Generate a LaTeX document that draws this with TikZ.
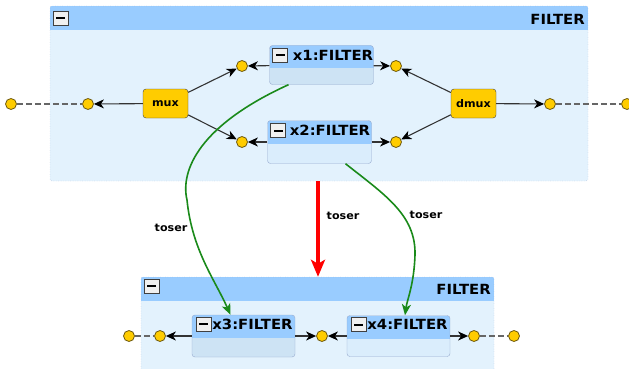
\documentclass[tikz,border=0pt]{standalone}
\usepackage{fontspec}
\setmainfont{DejaVu Sans}
\newfontfamily\hdfont{DejaVu Sans}[FakeStretch=1.06]
\usetikzlibrary{arrows.meta,positioning}
\definecolor{hdr}{HTML}{99CCFF}
\definecolor{contbody}{HTML}{E3F2FD}
\definecolor{contline}{HTML}{97A6C8}
\definecolor{bodya}{HTML}{CDE3F4}
\definecolor{bodyb}{HTML}{DAEDFC}
\definecolor{blkline}{HTML}{98ABCF}
\definecolor{gold}{HTML}{FFCC00}
\definecolor{goldline}{HTML}{6E5A10}
\definecolor{lnkgreen}{HTML}{1A8A1A}
\tikzset{
	cont/.style={draw=contline, dotted, fill=contbody, rounded corners=2pt, inner sep=0pt,
		path picture={\fill[hdr, sharp corners] (path picture bounding box.north west) rectangle ([yshift=-24pt]path picture bounding box.north east);}},
	blk/.style={draw=blkline, fill=#1, rounded corners=3pt, inner sep=0pt, minimum width=104pt,
		path picture={\fill[hdr, sharp corners] (path picture bounding box.north west) rectangle ([yshift=-23pt]path picture bounding box.north east);}},
	mbox/.style={draw=gray!50!black, fill=gray!12, minimum width=15pt, minimum height=14pt, inner sep=0pt,
		path picture={\fill[black] ([xshift=-4.5pt,yshift=-1pt]path picture bounding box.center) rectangle ([xshift=4.5pt,yshift=1pt]path picture bounding box.center);}},
	ttl/.style={inner sep=0pt, font=\hdfont\fontsize{14}{16}\selectfont\bfseries},
	mx/.style={draw=black!75, fill=gold, rounded corners=3pt, minimum width=45pt, minimum height=29pt, inner sep=0pt, font=\hdfont\fontsize{10.5}{12}\selectfont\bfseries},
	port/.style={circle, draw=goldline, fill=gold, minimum size=11pt, inner sep=0pt, line width=0.8pt},
	lbl/.style={inner sep=0pt, font=\hdfont\fontsize{10.5}{12}\selectfont\bfseries},
	lnk/.style={draw=black!80, line width=1.1pt, -{Stealth[black, length=10pt, width=9pt, inset=3pt]}},
	dsh/.style={draw=black!60, line width=1.1pt, dash pattern=on 6pt off 3pt},
	tos/.style={draw=lnkgreen, line width=1.6pt, -{Stealth[length=11pt, width=9pt, inset=3pt]}},
	ser/.style={draw=red, line width=4pt, -{Stealth[length=17pt, width=14pt, inset=4pt]}}
}
\begin{document}
\begin{tikzpicture}[x=1pt, y=-1pt]
	\useasboundingbox (0, 0) rectangle (629, 369);
	\clip (0, 0) rectangle (629, 369);

	% upper FILTER
	\node[cont, minimum width=538pt, minimum height=175pt] (filt) at (319, 93.5) {};
	\node[mbox, below right=5pt and 3pt of filt.north west] (filtm) {};
	\node[ttl, anchor=east] (filtt) at (585, 19.5) {FILTER};

	\node[port] (pl0) at (11, 104) {};
	\node[port] (pl1) at (88, 104) {};
	\node[mx] (mux) at (165.5, 103.5) {mux};
	\node[port] (p1l) at (242, 66) {};
	\node[port] (p2l) at (242, 142) {};
	\node[blk=bodya, minimum height=39pt] (x1) at (321.5, 65) {};
	\node[mbox, below right=3pt and 3pt of x1.north west] (x1m) {};
	\node[ttl, right=5pt of x1m] (x1t) {x1:FILTER};
	\node[blk=bodyb, minimum height=43pt] (x2) at (319.5, 142) {};
	\node[mbox, below right=3pt and 3pt of x2.north west] (x2m) {};
	\node[ttl, right=4pt of x2m] (x2t) {x2:FILTER};
	\node[port] (p1r) at (396, 66) {};
	\node[port] (p2r) at (396, 142) {};
	\node[mx] (dmux) at (473.5, 103.5) {dmux};
	\node[port] (pr1) at (550, 104) {};
	\node[port] (pr0) at (627, 104) {};

	% lower FILTER
	\node[cont, minimum width=353pt, minimum height=126pt] (filtb) at (317.5, 340) {};
	\node[mbox, below right=2pt and 3pt of filtb.north west] (filtbm) {};
	\node[ttl, anchor=east] (filtbt) at (491, 289) {FILTER};

	\node[port] (q0) at (129, 336) {};
	\node[port] (q1) at (160, 336) {};
	\node[blk=bodya, minimum width=103pt, minimum height=42pt] (x3) at (243.5, 336) {};
	\node[mbox, below right=2pt and 4pt of x3.north west] (x3m) {};
	\node[ttl, right=1pt of x3m] (x3t) {x3:FILTER};
	\node[port] (q2) at (322, 336) {};
	\node[blk=bodyb, minimum width=103pt, minimum height=41pt] (x4) at (398.5, 336) {};
	\node[mbox, below right=2pt and 4pt of x4.north west] (x4m) {};
	\node[ttl, right=1pt of x4m] (x4t) {x4:FILTER};
	\node[port] (q3) at (474, 336) {};
	\node[port] (q4) at (514, 336) {};

	\node[lbl] (t1) at (171, 228) {toser};
	\node[lbl] (t2) at (343, 216) {toser};
	\node[lbl] (t3) at (426, 215) {toser};

	\path (pl0) edge[dsh] (pl1);
	\path (mux) edge[lnk] (pl1);
	\path (mux) edge[lnk] (p1l);
	\path (mux) edge[lnk] (p2l);
	\path (x1) edge[lnk] (p1l);
	\path (x1) edge[lnk] (p1r);
	\path (x2) edge[lnk] (p2l);
	\path (x2) edge[lnk] (p2r);
	\path (dmux) edge[lnk] (p1r);
	\path (dmux) edge[lnk] (p2r);
	\path (dmux) edge[lnk] (pr1);
	\path (pr1) edge[dsh] (pr0);

	\path (q0) edge[dsh] (q1);
	\path (x3) edge[lnk] (q1);
	\path (x3) edge[lnk] (q2);
	\path (x4) edge[lnk] (q2);
	\path (x4) edge[lnk] (q3);
	\path (q3) edge[dsh] (q4);

	\path ([xshift=-1pt]filt.south) edge[ser] ([xshift=0.5pt]filtb.north);
	\draw[tos] ([xshift=-33pt]x1.south) .. controls (200, 125) and (180, 170) .. (187, 200)
		.. controls (192, 250) and (215, 280) .. ([xshift=-13pt]x3.north);
	\draw[tos] ([xshift=26pt]x2.south) .. controls (385, 195) and (416, 215) .. (415, 255)
		.. controls (414, 285) and (407, 300) .. ([xshift=6.5pt]x4.north);
\end{tikzpicture}
\end{document}
